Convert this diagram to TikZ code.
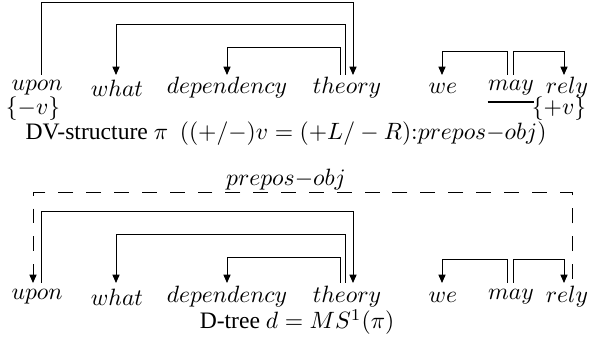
\documentclass[tikz,border=0pt]{standalone}
\usepackage[no-math]{fontspec}
\setmainfont{Liberation Serif}
\usetikzlibrary{arrows.meta,calc}
\begin{document}
\begin{tikzpicture}[x=0.4237pt,y=-0.4237pt,
  word/.style={inner sep=0pt},
  link/.style={line width=0.42pt,-{Triangle[length=3.5pt,width=3pt]}},
  dlink/.style={link,dash pattern=on 6.3pt off 5.5pt}]
\useasboundingbox (0,0) rectangle (598,350);
\coordinate (T) at (0,75);
\coordinate (B) at (0,283);
% top row
\node[word] (u1) at (37,88) {$upon$};
\node[word] (w1) at (117,88) {$what$};
\node[word] (d1) at (227,88) {$dependency$};
\node[word] (t1) at (347,88) {$theory$};
\node[word] (e1) at (443,88) {$we$};
\node[word] (m1) at (511,88) {$may$};
\node[word] (r1) at (567,88) {$rely$};
\node[word] (vm) at (33,109) {$\{-v\}$};
\node[word] (vp) at (559,109) {$\{+v\}$};
\node[anchor=base,inner sep=0pt] (cap1) at (286,140) {DV-structure $\pi$\ \ $((+/-)v=(+L/-R){:}prepos{-}obj)$};
\draw[line width=0.6pt] ($(m1.south west)+(0,6)$) -- ($(m1.south east)+(0,6)$);
\draw[link] ($(u1|-T)+(4,0)$) -- ++(0,-72) -| ($(t1|-T)+(6,0)$);
\draw[link] ($(t1|-T)+(-2,0)$) -- ++(0,-50) -| ($(w1|-T)+(-1,0)$);
\draw[link] ($(t1|-T)+(-7,0)$) -- ++(0,-27) -| (d1|-T);
\draw[link] ($(m1|-T)+(-4,0)$) -- ++(0,-23) -| ($(e1|-T)+(-1,0)$);
\draw[link] ($(m1|-T)+(2,0)$) -- ++(0,-23) -| ($(r1|-T)+(-3,0)$);
% bottom row
\node[word] (u2) at (37,297) {$upon$};
\node[word] (w2) at (117,297) {$what$};
\node[word] (d2) at (227,297) {$dependency$};
\node[word] (t2) at (347,297) {$theory$};
\node[word] (e2) at (443,297) {$we$};
\node[word] (m2) at (511,297) {$may$};
\node[word] (r2) at (567,297) {$rely$};
\node[anchor=base,inner sep=0pt] (cap2) at (297,329) {D-tree $d=MS^1(\pi)$};
\node[anchor=base,inner sep=0pt] (lab) at (286,186) {$prepos{-}obj$};
\draw[dlink] ($(r2|-B)+(5,-4)$) -- ++(0,-86) -| ($(u2|-B)+(-4,0)$);
\draw[link] ($(u2|-B)+(4,0)$) -- ++(0,-71) -| ($(t2|-B)+(6,0)$);
\draw[link] ($(t2|-B)+(-2,0)$) -- ++(0,-48) -| ($(w2|-B)+(-1,0)$);
\draw[link] ($(t2|-B)+(-7,0)$) -- ++(0,-26) -| (d2|-B);
\draw[link] ($(m2|-B)+(-4,0)$) -- ++(0,-24) -| ($(e2|-B)+(-1,0)$);
\draw[link] ($(m2|-B)+(2,0)$) -- ++(0,-24) -| ($(r2|-B)+(-3,0)$);
\end{tikzpicture}
\end{document}
